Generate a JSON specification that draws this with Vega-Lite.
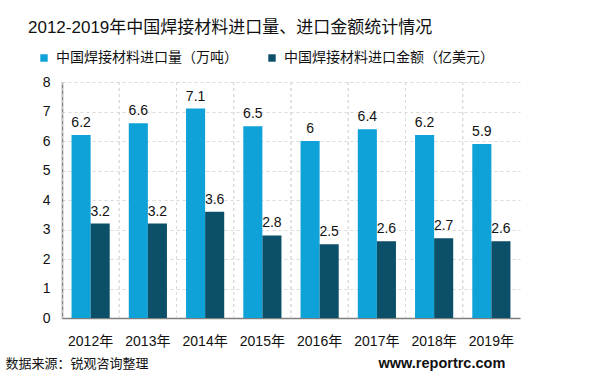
{
  "$schema": "https://vega.github.io/schema/vega-lite/v6.json",
  "autosize": "none",
  "width": 458,
  "height": 236,
  "padding": {"left": 62, "top": 82, "right": 80, "bottom": 73},
  "background": "white",
  "title": {
    "text": "2012-2019年中国焊接材料进口量、进口金额统计情况",
    "anchor": "start",
    "frame": "group",
    "dx": -34,
    "offset": 14,
    "fontSize": 17,
    "fontWeight": "normal",
    "color": "#111111",
    "font": "Liberation Sans, Noto Sans CJK SC"
  },
  "data": {
    "values": [
      {"year": "2012年", "series": "中国焊接材料进口量（万吨）", "value": 6.2},
      {"year": "2013年", "series": "中国焊接材料进口量（万吨）", "value": 6.6},
      {"year": "2014年", "series": "中国焊接材料进口量（万吨）", "value": 7.1},
      {"year": "2015年", "series": "中国焊接材料进口量（万吨）", "value": 6.5},
      {"year": "2016年", "series": "中国焊接材料进口量（万吨）", "value": 6},
      {"year": "2017年", "series": "中国焊接材料进口量（万吨）", "value": 6.4},
      {"year": "2018年", "series": "中国焊接材料进口量（万吨）", "value": 6.2},
      {"year": "2019年", "series": "中国焊接材料进口量（万吨）", "value": 5.9},
      {"year": "2012年", "series": "中国焊接材料进口金额（亿美元）", "value": 3.2},
      {"year": "2013年", "series": "中国焊接材料进口金额（亿美元）", "value": 3.2},
      {"year": "2014年", "series": "中国焊接材料进口金额（亿美元）", "value": 3.6},
      {"year": "2015年", "series": "中国焊接材料进口金额（亿美元）", "value": 2.8},
      {"year": "2016年", "series": "中国焊接材料进口金额（亿美元）", "value": 2.5},
      {"year": "2017年", "series": "中国焊接材料进口金额（亿美元）", "value": 2.6},
      {"year": "2018年", "series": "中国焊接材料进口金额（亿美元）", "value": 2.7},
      {"year": "2019年", "series": "中国焊接材料进口金额（亿美元）", "value": 2.6}
    ]
  },
  "layer": [
    {
      "mark": {"type": "rule", "stroke": "#d9d9d9", "strokeDash": [3, 3], "strokeWidth": 1},
      "encoding": {
        "x": {
          "field": "year", "type": "ordinal", "bandPosition": 0,
          "scale": {"paddingInner": 0, "paddingOuter": 0},
          "axis": {
            "orient": "top", "labels": false, "ticks": false, "domain": false, "grid": false,
            "title": "www.reportrc.com",
            "titleFont": "Liberation Sans, Noto Sans CJK SC",
            "titleFontSize": 14.5, "titleFontWeight": "bold", "titleColor": "#111111",
            "titleAlign": "left", "titleBaseline": "middle", "titleAnchor": "start",
            "titleX": 316, "titleY": 281
          }
        }
      }
    },
    {
      "mark": {"type": "bar"},
      "encoding": {
        "x": {
          "field": "year", "type": "ordinal",
          "axis": {
            "orient": "bottom",
            "labelAngle": 0, "labelFontSize": 14, "labelColor": "#111111",
            "labelFont": "Liberation Sans, Noto Sans CJK SC",
            "labelPadding": 16, "ticks": false, "grid": false,
            "domainColor": "#7f7f7f", "domainWidth": 1.5,
            "title": "数据来源：锐观咨询整理",
            "titleFont": "Liberation Sans, Noto Sans CJK SC",
            "titleFontSize": 13, "titleFontWeight": "normal", "titleColor": "#111111",
            "titleAlign": "left", "titleBaseline": "middle", "titleAnchor": "start",
            "titleX": -57, "titleY": 45
          }
        },
        "xOffset": {
          "field": "series", "type": "nominal",
          "sort": ["中国焊接材料进口量（万吨）", "中国焊接材料进口金额（亿美元）"],
          "scale": {"paddingInner": 0, "paddingOuter": 0.5}
        },
        "y": {
          "field": "value", "type": "quantitative",
          "scale": {"domain": [0, 8], "nice": false},
          "axis": {
            "values": [0, 1, 2, 3, 4, 5, 6, 7, 8],
            "labelOverlap": false,
            "title": null, "ticks": false,
            "labelFontSize": 14, "labelColor": "#111111", "labelPadding": 12,
            "labelFont": "Liberation Sans, Noto Sans CJK SC",
            "domainColor": "#7f7f7f", "domainWidth": 1.5,
            "grid": true, "gridColor": "#d9d9d9", "gridDash": [3, 3]
          }
        },
        "color": {
          "field": "series", "type": "nominal",
          "sort": ["中国焊接材料进口量（万吨）", "中国焊接材料进口金额（亿美元）"],
          "scale": {"range": ["#0ea2d9", "#0c4f69"]},
          "legend": {
            "orient": "none", "direction": "horizontal",
            "legendX": -25, "legendY": -31,
            "title": null, "symbolType": "square", "symbolSize": 55,
            "labelFontSize": 14, "labelColor": "#111111",
            "labelFont": "Liberation Sans, Noto Sans CJK SC",
            "columnPadding": 27, "labelLimit": 300, "labelOffset": 5
          }
        }
      }
    },
    {
      "mark": {"type": "text", "dy": -12, "fontSize": 14, "color": "#111111", "font": "Liberation Sans, Noto Sans CJK SC"},
      "encoding": {
        "x": {"field": "year", "type": "ordinal", "axis": null},
        "xOffset": {
          "field": "series", "type": "nominal",
          "sort": ["中国焊接材料进口量（万吨）", "中国焊接材料进口金额（亿美元）"]
        },
        "y": {
          "field": "value", "type": "quantitative",
          "axis": {
            "values": [0, 1, 2, 3, 4, 5, 6, 7, 8],
            "labelOverlap": false,
            "title": null, "ticks": false,
            "labelFontSize": 14, "labelColor": "#111111", "labelPadding": 12,
            "labelFont": "Liberation Sans, Noto Sans CJK SC",
            "domainColor": "#7f7f7f", "domainWidth": 1.5,
            "grid": true, "gridColor": "#d9d9d9", "gridDash": [3, 3]
          }
        },
        "text": {"field": "value", "type": "quantitative"}
      }
    }
  ],
  "resolve": {"axis": {"x": "independent"}},
  "config": {"view": {"stroke": null}}
}
